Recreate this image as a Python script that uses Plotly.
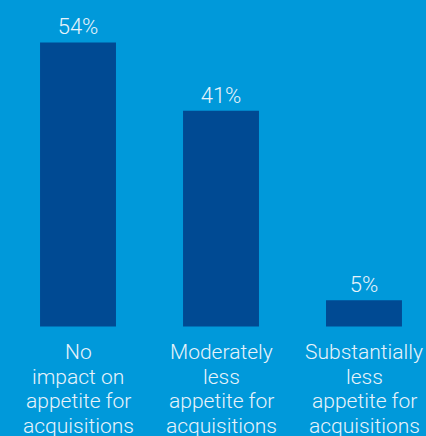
import plotly.graph_objects as go

categories = ["No<br>impact on<br>appetite for<br>acquisitions",
              "Moderately<br>less<br>appetite for<br>acquisitions",
              "Substantially<br>less<br>appetite for<br>acquisitions"]
values = [54, 41, 5]

BG = "#0099DA"
BAR = "#004A93"
TXT = "#E8F3FA"
FONT = "Roboto"
W, H = 426, 436

x = list(range(len(values)))
fig = go.Figure(go.Bar(
    x=x, y=values, width=0.531,
    marker=dict(color=BAR, line=dict(width=0)),
    text=[f"{v}%" for v in values],
    textposition="outside",
    textfont=dict(family=FONT, size=22, color=TXT, weight=300),
    cliponaxis=False,
    hoverinfo="skip",
))

# category labels, one annotation per line for tight line spacing
first_line_center_px = 352
line_step_px = 24.5
for xi, c in zip(x, categories):
    for i, line in enumerate(c.split("<br>")):
        py = first_line_center_px + line_step_px * i
        fig.add_annotation(x=xi, y=1 - py / H, xref="x", yref="paper", text=line,
                           showarrow=False, yanchor="middle",
                           font=dict(family=FONT, size=21, color=TXT, weight=300),
                           align="center")

fig.update_layout(
    width=W, height=H,
    margin=dict(l=0, r=0, t=0, b=0),
    paper_bgcolor=BG, plot_bgcolor=BG,
    showlegend=False,
    hovermode=False,
    xaxis=dict(range=[-0.5455, 2.4336], visible=False),
    yaxis=dict(range=[-20.8, 62.07], visible=False),
)

fig.write_html("out.html", config={"displayModeBar": False},
               post_script="document.body.style.margin='0';")
